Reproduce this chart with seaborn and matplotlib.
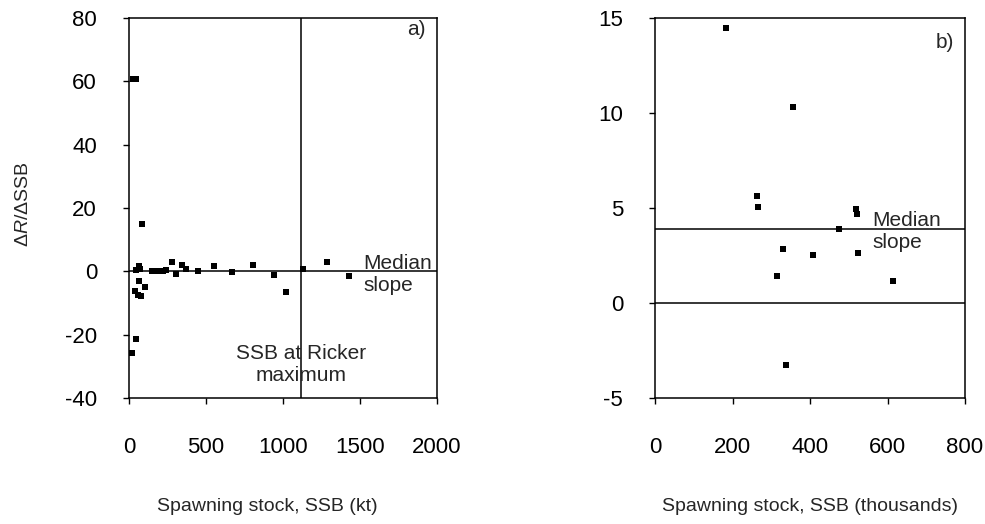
import numpy as np
import pandas as pd
import matplotlib
matplotlib.use("Agg")
import matplotlib.pyplot as plt
import seaborn as sns

# panel a) : SSB (kt) vs dR/dSSB
ssb_a = [26, 48, 81, 63, 70, 48, 146, 170, 195, 220, 243, 276, 308, 341, 373,
         451, 549, 666, 803, 942, 1018, 1132, 1284, 1430, 63, 102, 37, 59, 76, 48, 20]
slope_a = [60.8, 60.8, 15, 1.8, 0.8, 0.5, 0, 0, 0.2, 0, 0.3, 2.8, -1.0, 2.1, 0.8,
           0, 1.6, -0.2, 2.1, -1.2, -6.5, 0.6, 3.0, -1.5, -3.2, -4.9, -6.3, -7.4, -7.9, -21.3, -25.8]
median_a = 0.0
ricker_max_a = 1115

# panel b) : SSB (thousands) vs dR/dSSB
ssb_b = [183, 355, 262, 265, 519, 522, 475, 331, 408, 525, 314, 613, 337]
slope_b = [14.47, 10.3, 5.63, 5.07, 4.97, 4.67, 3.92, 2.83, 2.52, 2.62, 1.43, 1.17, -3.24]
median_b = 3.9

xticks_a = [0, 500, 1000, 1500, 2000]
yticks_a = [-40, -20, 0, 20, 40, 60, 80]
xticks_b = [0, 200, 400, 600, 800]
yticks_b = [-5, 0, 5, 10, 15]

sns.set_style("ticks")
plt.rcParams['font.family'] = ['Liberation Sans', 'DejaVu Sans']
plt.rcParams['axes.unicode_minus'] = False
plt.rcParams['mathtext.fontset'] = 'custom'
plt.rcParams['mathtext.rm'] = 'Liberation Sans'
plt.rcParams['mathtext.it'] = 'Liberation Sans:italic'

fs_tick = 16
fs_lab = 14
fs_note = 15
fig = plt.figure(figsize=(9.85, 5.24), dpi=100)
ax1 = fig.add_axes([0.131, 0.2405, 0.3127, 0.7251])
ax2 = fig.add_axes([0.665, 0.2405, 0.3147, 0.7251])

df_a = pd.DataFrame({'ssb': ssb_a, 'slope': slope_a})
df_b = pd.DataFrame({'ssb': ssb_b, 'slope': slope_b})

for ax, df in [(ax1, df_a), (ax2, df_b)]:
    sns.scatterplot(data=df, x='ssb', y='slope', ax=ax, marker='s', s=20,
                    color='black', edgecolor='black', linewidth=0, zorder=3)
    for sp in ax.spines.values():
        sp.set_color('black')
        sp.set_linewidth(1.1)
    ax.tick_params(direction='out', length=4, width=1, colors='black',
                   labelsize=fs_tick)
    ax.tick_params(axis='x', pad=24)
    ax.tick_params(axis='y', pad=19)

# panel a
ax1.axhline(median_a, color='black', lw=1.1, zorder=2)
ax1.axvline(ricker_max_a, color='black', lw=1.1, zorder=2)
ax1.set_xlim(0, 2000)
ax1.set_ylim(-40, 80)
ax1.set_xticks(xticks_a)
ax1.set_yticks(yticks_a)
ax1.set_xlabel('Spawning stock, SSB (kt)', fontsize=fs_lab)
ax1.xaxis.set_label_coords(0.45, -0.262)
ax1.set_ylabel(r'Δ$\it{R}$/ΔSSB', fontsize=fs_lab)
ax1.yaxis.set_label_coords(-0.316, 0.51)
ax1.text(1865, 76.3, 'a)', fontsize=fs_note, ha='center', va='center')
ax1.text(1520, -0.9, 'Median\nslope', fontsize=fs_note, ha='left', va='center',
         linespacing=1.2)
ax1.text(ricker_max_a, -29.5, 'SSB at Ricker\nmaximum', fontsize=fs_note,
         ha='center', va='center', linespacing=1.2)

# panel b
ax2.axhline(median_b, color='black', lw=1.1, zorder=2)
ax2.axhline(0, color='black', lw=1.1, zorder=2)
ax2.set_xlim(0, 800)
ax2.set_ylim(-5, 15)
ax2.set_xticks(xticks_b)
ax2.set_yticks(yticks_b)
ax2.set_xlabel('Spawning stock, SSB (thousands)', fontsize=fs_lab)
ax2.xaxis.set_label_coords(0.5, -0.262)
ax2.set_ylabel('')
ax2.text(748, 13.7, 'b)', fontsize=fs_note, ha='center', va='center')
ax2.text(560, 3.78, 'Median\nslope', fontsize=fs_note, ha='left', va='center',
         linespacing=1.2)

fig.savefig('out.png', dpi=100, facecolor='white')
